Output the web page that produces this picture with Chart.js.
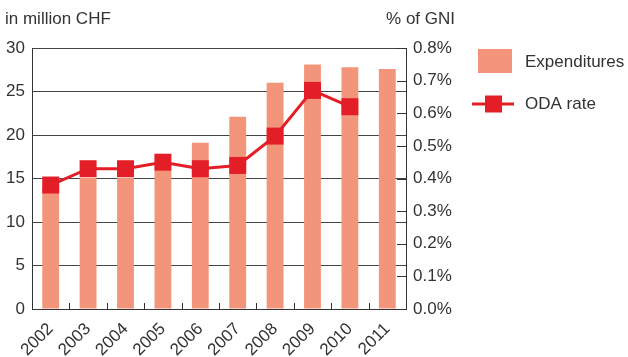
<!DOCTYPE html>
<html>
<head>
<meta charset="utf-8">
<script src="https://cdn.jsdelivr.net/npm/chart.js@4"></script>
<style>
  html, body { margin: 0; padding: 0; background: #fff; }
</style>
</head>
<body>
<canvas id="myChart" width="628" height="357"></canvas>
<script>
const years = ['2002', '2003', '2004', '2005', '2006', '2007', '2008', '2009', '2010', '2011'];
const expenditures = [14.0, 15.1, 15.1, 16.0, 19.1, 22.1, 26.0, 28.1, 27.8, 27.6]; // million CHF
const odaRate = [0.38, 0.43, 0.43, 0.45, 0.43, 0.44, 0.53, 0.67, 0.62, null]; // % of GNI

const leftTitle = 'in million CHF';
const rightTitle = '% of GNI';

const FONT = 'Liberation Sans, Arial, sans-serif';
const TEXT = '#333333';
const SALMON = '#f2957a';
const RED = '#e31e26';

// titles, legend and the small inward tick marks
const extras = {
    id: 'extras',
    afterDatasetsDraw(chart) {
        const { ctx, chartArea } = chart;
        const x = chart.scales.x;
        const yr = chart.scales.yRight;
        ctx.save();
        ctx.strokeStyle = TEXT;
        ctx.lineWidth = 1;
        ctx.beginPath();
        for (let i = 1; i < years.length; i++) {
            const px = Math.round((x.getPixelForTick(i - 1) + x.getPixelForTick(i)) / 2) + 0.5;
            ctx.moveTo(px, chartArea.bottom);
            ctx.lineTo(px, chartArea.bottom - 6);
        }
        yr.ticks.forEach((t, i) => {
            const py = Math.round(yr.getPixelForTick(i)) + 0.5;
            ctx.moveTo(chartArea.right - 9, py);
            ctx.lineTo(chartArea.right, py);
        });
        ctx.stroke();
        ctx.restore();
    },
    afterDraw(chart) {
        const { ctx } = chart;
        const ds = chart.data.datasets;
        ctx.save();
        ctx.font = '17px ' + FONT;
        ctx.fillStyle = TEXT;
        ctx.textBaseline = 'alphabetic';
        ctx.textAlign = 'left';
        ctx.fillText(leftTitle, 5, 24);
        ctx.textAlign = 'right';
        ctx.fillText(rightTitle, 455, 24);

        // legend
        const bar = ds.find(d => d.type !== 'line');
        const line = ds.find(d => d.type === 'line');
        ctx.fillStyle = bar.backgroundColor;
        ctx.fillRect(478, 49, 34, 24);
        ctx.strokeStyle = line.borderColor;
        ctx.lineWidth = 3;
        ctx.beginPath();
        ctx.moveTo(472, 104);
        ctx.lineTo(514, 104);
        ctx.stroke();
        ctx.fillStyle = line.pointBackgroundColor;
        ctx.fillRect(485, 95.5, 17, 17);

        ctx.fillStyle = TEXT;
        ctx.textAlign = 'left';
        ctx.textBaseline = 'middle';
        ctx.fillText(bar.label, 525, 62);
        ctx.fillText(line.label, 525, 104);
        ctx.restore();
    }
};

const ctx = document.getElementById('myChart').getContext('2d');

new Chart(ctx, {
    data: {
        labels: years,
        datasets: [
            {
                type: 'line',
                label: 'ODA rate',
                data: odaRate,
                yAxisID: 'yRight',
                borderColor: RED,
                borderWidth: 3,
                pointStyle: 'rect',
                pointRadius: 12,
                pointHoverRadius: 12,
                pointBackgroundColor: RED,
                pointBorderWidth: 0,
                tension: 0,
                order: 1
            },
            {
                type: 'bar',
                label: 'Expenditures',
                data: expenditures,
                yAxisID: 'y',
                backgroundColor: SALMON,
                barPercentage: 0.45,
                categoryPercentage: 1,
                order: 2
            }
        ]
    },
    options: {
        responsive: false,
        animation: false,
        devicePixelRatio: 1,
        layout: { padding: { top: 48, left: 0, right: 0, bottom: 0 } },
        plugins: {
            legend: { display: false },
            tooltip: { enabled: false }
        },
        scales: {
            x: {
                grid: { display: false },
                border: { display: true, color: TEXT, width: 1 },
                ticks: {
                    color: TEXT,
                    font: { size: 17, family: FONT },
                    minRotation: 45,
                    maxRotation: 45,
                    autoSkip: false,
                    padding: 2
                },
                afterFit: s => { s.height = 48; }
            },
            y: {
                position: 'left',
                min: 0,
                max: 30,
                ticks: {
                    stepSize: 5,
                    color: TEXT,
                    font: { size: 17, family: FONT },
                    padding: 7
                },
                grid: { color: '#444444', lineWidth: 1, drawTicks: false },
                border: { display: true, color: TEXT, width: 1 },
                afterFit: s => { s.width = 32; }
            },
            yRight: {
                position: 'right',
                min: 0,
                max: 0.8,
                ticks: {
                    stepSize: 0.1,
                    color: TEXT,
                    font: { size: 17, family: FONT },
                    padding: 7,
                    callback: v => v.toFixed(1) + '%'
                },
                grid: { drawOnChartArea: false, drawTicks: false },
                border: { display: true, color: TEXT, width: 1 },
                afterFit: s => { s.width = 222; }
            }
        }
    },
    plugins: [extras]
});
</script>
</body>
</html>
